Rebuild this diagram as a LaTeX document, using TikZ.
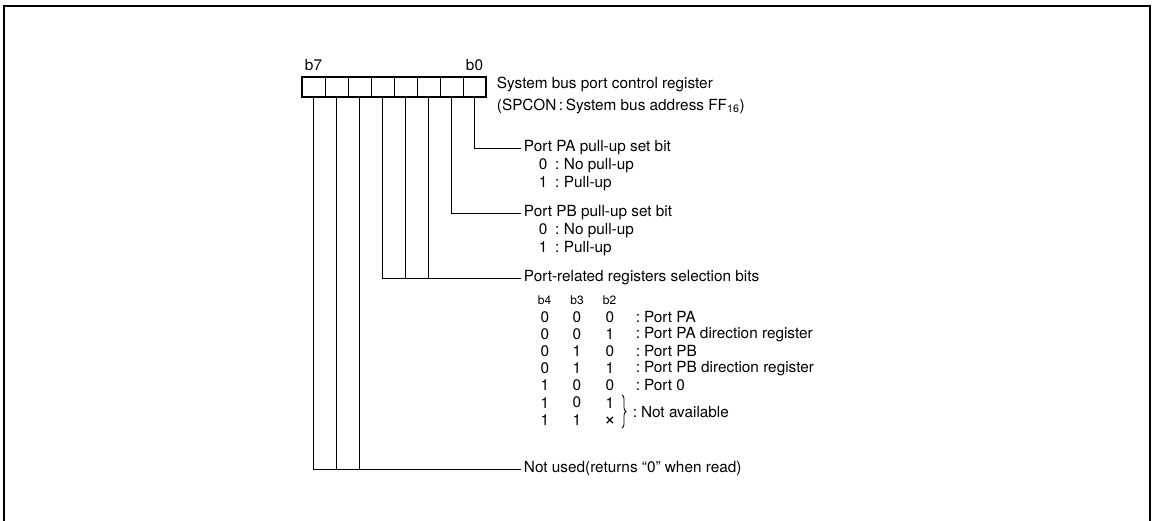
\documentclass[tikz,border=0pt]{standalone}
\usepackage{fontspec}
\setmainfont{TeX Gyre Heros}
\usetikzlibrary{positioning,decorations.pathreplacing}

\begin{document}
\begin{tikzpicture}[x=0.75pt, y=-0.75pt, font=\fontsize{11.5}{13}\selectfont,
      celda/.style={draw, line width=0.6pt, minimum width=17.25pt, minimum height=15pt, inner sep=0pt},
      etiq/.style={anchor=west, inner sep=2pt},
      valor/.style={inner sep=1pt},
      linea/.style={line width=0.7pt}]
  \useasboundingbox (0,0) rectangle (1154,521);
  % marco
  \draw[line width=1.5pt] (4,521) -- (4,6) -- (1150,6) -- (1150,521);
  % registro
  \foreach \i in {7,...,0}
    \node[celda] (b\i) at ({474.5-23*\i},87) {};
  \draw[line width=1.4pt] (b7.north west) rectangle (b0.south east);
  \node[above=1pt of b7] (t7) {b7};
  \node[above=1pt of b0] (t0) {b0};
  \node[etiq] (reg) at (494,84) {System bus port control register};
  \node[etiq] (spcon) at (494,106) {(SPCON\,:\,System bus address FF\textsubscript{16})};
  % bits
  \node[etiq] (pa) at (521,148) {Port PA pull-up set bit};
  \node[etiq] (pa0) at (536,166) {0\hspace{0.5em}:\hspace{0.3em}No pull-up};
  \node[etiq] (pa1) at (536,184) {1\hspace{0.5em}:\hspace{0.3em}Pull-up};
  \node[etiq] (pb) at (521,213) {Port PB pull-up set bit};
  \node[etiq] (pb0) at (536,231) {0\hspace{0.5em}:\hspace{0.3em}No pull-up};
  \node[etiq] (pb1) at (536,249) {1\hspace{0.5em}:\hspace{0.3em}Pull-up};
  \node[etiq] (sel) at (521,278) {Port-related registers selection bits};
  \node[etiq] (nu) at (521,469) {Not used(returns “0” when read)};
  % tabla
  \foreach \t [count=\k] in {b4,b3,b2}
    \node[valor, font=\fontsize{9}{10}\selectfont] (h\k) at ({512+32.5*\k},300) {\t};
  \foreach \a/\b/\c/\txt [count=\r] in {0/0/0/Port PA, 0/0/1/Port PA direction register,
      0/1/0/Port PB, 0/1/1/Port PB direction register, 1/0/0/Port 0, 1/0/1/} {
    \node[valor] (v\r a) at (545,{300+17.1*\r}) {\a};
    \node[valor] (v\r b) at (577,{300+17.1*\r}) {\b};
    \node[valor] (v\r c) at (610,{300+17.1*\r}) {\c};
    \ifx\txt\empty\else
      \node[etiq] (f\r) at (633,{300+17.1*\r}) {:\hspace{0.25em}\txt};
    \fi
  }
  \node[valor] (v7a) at (545,420) {1};
  \node[valor] (v7b) at (577,420) {1};
  \node[valor, inner sep=0pt] (v7c) at (610,421) {\scalebox{1.3}{×}};
  \draw[line width=0.6pt, decorate, decoration={brace, amplitude=3pt}]
    (622,395) -- (622,428) coordinate[midway] (llave);
  \node[etiq] (na) at (630,412) {:\hspace{0.25em}Not available};
  % conectores
  \draw[linea] (b0.south) |- (pa.west);
  \draw[linea] (b1.south) |- (pb.west);
  \draw[linea] (b4.south) |- (sel.west);
  \draw[linea] (b3.south) -- (b3.south |- sel.west);
  \draw[linea] (b2.south) -- (b2.south |- sel.west);
  \draw[linea] (b7.south) |- (nu.west);
  \draw[linea] (b6.south) -- (b6.south |- nu.west);
  \draw[linea] (b5.south) -- (b5.south |- nu.west);
\end{tikzpicture}
\end{document}
